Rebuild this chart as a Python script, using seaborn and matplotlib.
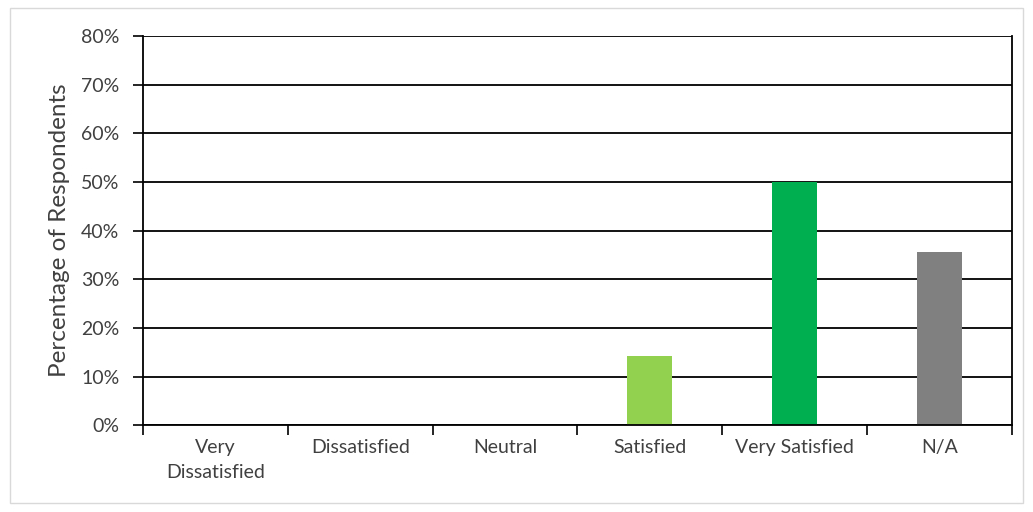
import matplotlib
matplotlib.use("Agg")
import matplotlib.pyplot as plt
import seaborn as sns
import pandas as pd
from matplotlib.patches import Rectangle
from matplotlib.ticker import PercentFormatter

categories = ["Very\nDissatisfied", "Dissatisfied", "Neutral", "Satisfied", "Very Satisfied", "N/A"]
percent = [0.0, 0.0, 0.0, 14.3, 50.0, 35.7]
colors = ["#92D050", "#92D050", "#92D050", "#92D050", "#00B050", "#808080"]

df = pd.DataFrame({"category": categories, "percent": percent})

sns.set_style("white")
plt.rcParams["font.family"] = ["Lato", "DejaVu Sans"]

fig = plt.figure(figsize=(10.33, 5.12), dpi=100)
ax = fig.add_axes([0.1384, 0.1693, 0.9797 - 0.1384, 0.9297 - 0.1693])

sns.barplot(data=df, x="category", y="percent", hue="category",
            palette=colors, legend=False, width=0.31, ax=ax, saturation=1,
            edgecolor="none")

ax.set_ylim(0, 80)
ax.set_xlim(-0.5, len(categories) - 0.5)
ax.set_yticks(range(0, 81, 10))
ax.yaxis.set_major_formatter(PercentFormatter(decimals=0))
ax.set_axisbelow(True)
ax.yaxis.grid(True, color="black", linewidth=1.3)

ax.set_xticks([i + 0.5 for i in range(-1, len(categories))], minor=False)
ax.set_xticklabels([])
ax.set_xticks(range(len(categories)), minor=True)
ax.set_xticklabels(categories, minor=True, fontsize=14, color="#404040", linespacing=1.55)
ax.tick_params(axis="x", which="major", length=7, width=1.2, color="black", direction="out", bottom=True)
ax.tick_params(axis="x", which="minor", length=0, pad=10)
ax.tick_params(axis="y", length=7, width=1.2, color="black", left=True, labelsize=14, labelcolor="#404040", pad=10)

for s in ax.spines.values():
    s.set_color("black")
    s.set_linewidth(1.3)
ax.spines["top"].set_visible(False)

ax.set_xlabel("")
ax.set_ylabel("Percentage of Respondents", fontsize=17.5, color="#404040", labelpad=8)

fig.patches.append(Rectangle((10 / 1033, 1 - 503 / 512), 1013 / 1033, 495 / 512,
                             transform=fig.transFigure, fill=False,
                             edgecolor="#d9d9d9", linewidth=1))

fig.savefig("out.png", dpi=100)
